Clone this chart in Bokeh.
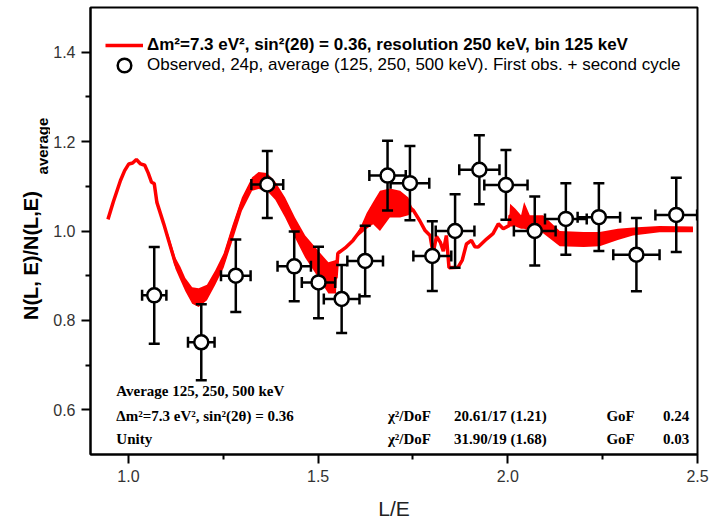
import math
from bokeh.plotting import figure
from bokeh.layouts import row
from bokeh.models import (ColumnDataSource, FixedTicker, PrintfTickFormatter, Label,
                          Legend, LegendItem, Range1d)
from bokeh.core.properties import value
from bokeh.embed import file_html
from bokeh.resources import INLINE

# ---------------- data ----------------
# model curve (L/E, ratio) with band envelope of the fast oscillation
curve_x = [0.946, 0.960, 0.979, 0.990, 1.001, 1.011, 1.021, 1.032, 1.043, 1.052, 1.061, 1.068,
           1.075, 1.093, 1.106, 1.124, 1.137, 1.150, 1.168, 1.185, 1.207, 1.229, 1.251, 1.273,
           1.299, 1.326, 1.343, 1.365, 1.387, 1.413, 1.439, 1.466, 1.501, 1.527, 1.547, 1.552,
           1.574, 1.592, 1.615, 1.628, 1.645, 1.663, 1.689, 1.716, 1.738, 1.751, 1.768, 1.782,
           1.795, 1.803, 1.812, 1.822, 1.830, 1.838, 1.845, 1.869, 1.880, 1.891, 1.904, 1.913,
           1.922, 1.944, 1.961, 1.975, 1.988, 2.003, 2.006, 2.020, 2.035, 2.043, 2.058, 2.093,
           2.137, 2.200, 2.242, 2.290, 2.330, 2.400, 2.488]
curve_y = [1.026, 1.065, 1.113, 1.135, 1.150, 1.152, 1.160, 1.150, 1.147, 1.130, 1.109, 1.106,
           1.064, 1.016, 0.979, 0.927, 0.905, 0.882, 0.856, 0.852, 0.863, 0.897, 0.934, 0.994,
           1.061, 1.106, 1.118, 1.112, 1.091, 1.053, 1.008, 0.965, 0.925, 0.895, 0.895, 0.950,
           0.964, 0.979, 1.005, 1.023, 1.045, 1.060, 1.065, 1.065, 1.055, 1.046, 1.023, 1.001,
           0.990, 0.950, 0.988, 0.975, 0.955, 0.990, 0.918, 0.919, 0.935, 0.971, 0.979, 0.965,
           0.964, 0.982, 0.994, 1.016, 1.005, 1.012, 1.035, 1.030, 1.020, 1.035, 1.018, 1.015,
           0.985, 0.980, 0.982, 0.993, 0.998, 1.004, 1.003]
curve_lo = [1.026, 1.065, 1.113, 1.135, 1.150, 1.152, 1.160, 1.150, 1.147, 1.130, 1.109, 1.106,
            1.064, 1.016, 0.970, 0.915, 0.890, 0.865, 0.837, 0.830, 0.845, 0.880, 0.918, 0.975,
            1.045, 1.090, 1.094, 1.090, 1.070, 1.030, 0.985, 0.940, 0.895, 0.860, 0.860, 0.945,
            0.964, 0.979, 0.995, 1.005, 1.015, 1.000, 1.030, 1.030, 1.035, 1.046, 1.023, 1.001,
            0.990, 0.950, 0.988, 0.975, 0.955, 0.990, 0.918, 0.919, 0.935, 0.971, 0.979, 0.965,
            0.964, 0.982, 0.994, 1.016, 1.005, 1.012, 1.010, 1.010, 1.005, 1.005, 1.000, 0.995,
            0.966, 0.964, 0.966, 0.980, 0.990, 0.997, 0.997]
curve_hi = [1.026, 1.065, 1.113, 1.135, 1.150, 1.152, 1.160, 1.150, 1.147, 1.130, 1.109, 1.106,
            1.064, 1.016, 0.990, 0.940, 0.920, 0.895, 0.874, 0.872, 0.880, 0.912, 0.950, 1.010,
            1.075, 1.120, 1.132, 1.130, 1.110, 1.075, 1.030, 0.990, 0.955, 0.930, 0.935, 0.955,
            0.964, 0.979, 1.015, 1.040, 1.065, 1.090, 1.095, 1.090, 1.075, 1.046, 1.023, 1.001,
            0.990, 0.950, 0.988, 0.975, 0.955, 0.990, 0.918, 0.919, 0.935, 0.971, 0.979, 0.965,
            0.964, 0.982, 0.994, 1.016, 1.005, 1.012, 1.061, 1.050, 1.035, 1.065, 1.035, 1.035,
            1.000, 0.998, 0.998, 1.005, 1.008, 1.011, 1.010]

# observed points
obs_x = [1.068, 1.192, 1.283, 1.366, 1.437, 1.501, 1.562, 1.624, 1.683, 1.742,
         1.801, 1.861, 1.925, 1.995, 2.071, 2.153, 2.240, 2.339, 2.444]
obs_y = [0.856, 0.751, 0.900, 1.104, 0.921, 0.885, 0.848, 0.933, 1.124, 1.107,
         0.944, 1.000, 1.137, 1.103, 1.000, 1.027, 1.031, 0.947, 1.036]
obs_yerr = [0.108, 0.085, 0.081, 0.075, 0.078, 0.080, 0.076, 0.079, 0.078, 0.083,
            0.078, 0.082, 0.077, 0.078, 0.077, 0.080, 0.076, 0.082, 0.083]
obs_xerr = [0.032, 0.035, 0.039, 0.042, 0.044, 0.044, 0.047, 0.047, 0.048, 0.051,
            0.050, 0.051, 0.053, 0.057, 0.055, 0.055, 0.056, 0.061, 0.055]

x_ticks = [1.0, 1.5, 2.0, 2.5]
x_minor = [1.25, 1.75, 2.25]
y_ticks = [0.6, 0.8, 1.0, 1.2, 1.4]
y_minor = [0.7, 0.9, 1.1, 1.3]

y_title = "N(L, E)/N(L,E)"
y_title_sub = "average"
legend_curve = "\u0394m\u00b2=7.3 eV\u00b2, sin\u00b2(2\u03b8) = 0.36, resolution 250 keV, bin 125 keV"
legend_obs = "Observed, 24p, average (125, 250, 500 keV). First obs. + second cycle"
info_rows = [
    ["Average 125, 250, 500 keV", "", "", "", ""],
    ["\u0394m\u00b2=7.3 eV\u00b2, sin\u00b2(2\u03b8) = 0.36", "\u03c7\u00b2/DoF", "20.61/17 (1.21)", "GoF", "0.24"],
    ["Unity", "\u03c7\u00b2/DoF", "31.90/19 (1.68)", "GoF", "0.03"],
]

LEFT_W = 50

# ---------------- y-title strip ----------------
lt = figure(width=LEFT_W, height=525, output_backend="svg", toolbar_location=None,
            x_range=Range1d(0, LEFT_W), y_range=Range1d(0.5, 1.5),
            min_border_left=0, min_border_right=0, min_border_top=7, min_border_bottom=71)
lt.axis.visible = False
lt.grid.visible = False
lt.outline_line_color = None
lt.text(x=[30], y=[0.945], text=[y_title], angle=math.pi / 2,
        text_align="center", text_baseline="middle",
        text_font=value("Liberation Sans"), text_font_size="20px",
        text_font_style="bold", text_color="black")
lt.text(x=[42], y=[1.19], text=[y_title_sub], angle=math.pi / 2,
        text_align="center", text_baseline="middle",
        text_font=value("Liberation Sans"), text_font_size="15px",
        text_font_style="bold", text_color="black")

# ---------------- main figure ----------------
p = figure(width=712 - LEFT_W, height=525, output_backend="svg", toolbar_location=None,
           x_range=Range1d(0.9, 2.5), y_range=Range1d(0.5, 1.5),
           min_border_left=90 - LEFT_W, min_border_right=15, min_border_top=7,
           min_border_bottom=71)
p.background_fill_color = "white"
p.border_fill_color = "white"
p.outline_line_color = "black"
p.outline_line_width = 2
p.xgrid.visible = False
p.ygrid.visible = False

for ax, tk, mn in ((p.xaxis, x_ticks, x_minor), (p.yaxis, y_ticks, y_minor)):
    ax.ticker = FixedTicker(ticks=tk, minor_ticks=mn)
    ax.formatter = PrintfTickFormatter(format="%.1f")
    ax.axis_line_width = 2
    ax.major_tick_line_width = 2
    ax.minor_tick_line_width = 2
    ax.major_tick_in = 0
    ax.major_tick_out = 9
    ax.minor_tick_in = 0
    ax.minor_tick_out = 5
    ax.major_label_text_font = "Liberation Sans"
    ax.major_label_text_font_size = "16px"
    ax.major_label_text_color = "#333333"
    ax.major_label_standoff = 6

p.xaxis.axis_label = "L/E"
p.xaxis.axis_label_text_font = "Liberation Sans"
p.xaxis.axis_label_text_font_size = "21px"
p.xaxis.axis_label_text_font_style = "normal"
p.xaxis.axis_label_text_color = "#222222"
p.xaxis.axis_label_standoff = 12

# model curve
src_c = ColumnDataSource(dict(x=curve_x, y=curve_y, lo=curve_lo, hi=curve_hi))
p.varea(x="x", y1="lo", y2="hi", source=src_c, fill_color="red")
r_line = p.line(x="x", y="y", source=src_c, line_color="red", line_width=3.5)

# observed points with error bars
src_o = ColumnDataSource(dict(
    x=obs_x, y=obs_y,
    ylo=[y - e for y, e in zip(obs_y, obs_yerr)],
    yhi=[y + e for y, e in zip(obs_y, obs_yerr)],
    xlo=[x - e for x, e in zip(obs_x, obs_xerr)],
    xhi=[x + e for x, e in zip(obs_x, obs_xerr)],
))
p.segment(x0="x", y0="ylo", x1="x", y1="yhi", source=src_o, line_color="black", line_width=2.5)
p.segment(x0="xlo", y0="y", x1="xhi", y1="y", source=src_o, line_color="black", line_width=2.5)
p.scatter(x="x", y="ylo", source=src_o, marker="dash", size=11, line_color="black", line_width=2.5)
p.scatter(x="x", y="yhi", source=src_o, marker="dash", size=11, line_color="black", line_width=2.5)
p.scatter(x="xlo", y="y", source=src_o, marker="dash", angle=math.pi / 2, size=11,
          line_color="black", line_width=2.5)
p.scatter(x="xhi", y="y", source=src_o, marker="dash", angle=math.pi / 2, size=11,
          line_color="black", line_width=2.5)
r_pts = p.scatter(x="x", y="y", source=src_o, marker="circle", size=14,
                  fill_color="white", line_color="black", line_width=2.5)

# legends (two, because of different font styles)
leg1 = Legend(items=[LegendItem(label=legend_curve, renderers=[r_line])],
              location=(15, 399), padding=0, margin=0, spacing=0,
              glyph_width=38, glyph_height=20, label_height=20, label_standoff=4,
              label_text_font="Liberation Sans", label_text_font_size="17px",
              label_text_font_style="bold", label_text_color="black",
              border_line_alpha=0, background_fill_alpha=0)
leg2 = Legend(items=[LegendItem(label=legend_obs, renderers=[r_pts])],
              location=(15, 372), padding=0, margin=0, spacing=0,
              glyph_width=38, glyph_height=34, label_height=34, label_standoff=4,
              label_text_font="Liberation Sans", label_text_font_size="17px",
              label_text_font_style="normal", label_text_color="black",
              border_line_alpha=0, background_fill_alpha=0)
p.add_layout(leg1)
p.add_layout(leg2)

# fit info block
row_y = [0.643, 0.587, 0.534]
col_x = [0.968, 1.684, 1.858, 2.260, 2.478]
col_align = ["left", "left", "left", "left", "right"]
for ry, rw in zip(row_y, info_rows):
    for cx, al, txt in zip(col_x, col_align, rw):
        if txt:
            p.add_layout(Label(x=cx, y=ry, text=txt, text_align=al, text_baseline="middle",
                               text_font="Liberation Serif", text_font_size="15px",
                               text_font_style="bold", text_color="black"))

layout = row(lt, p, spacing=0)
open("out.html", "w").write(file_html(layout, INLINE))
